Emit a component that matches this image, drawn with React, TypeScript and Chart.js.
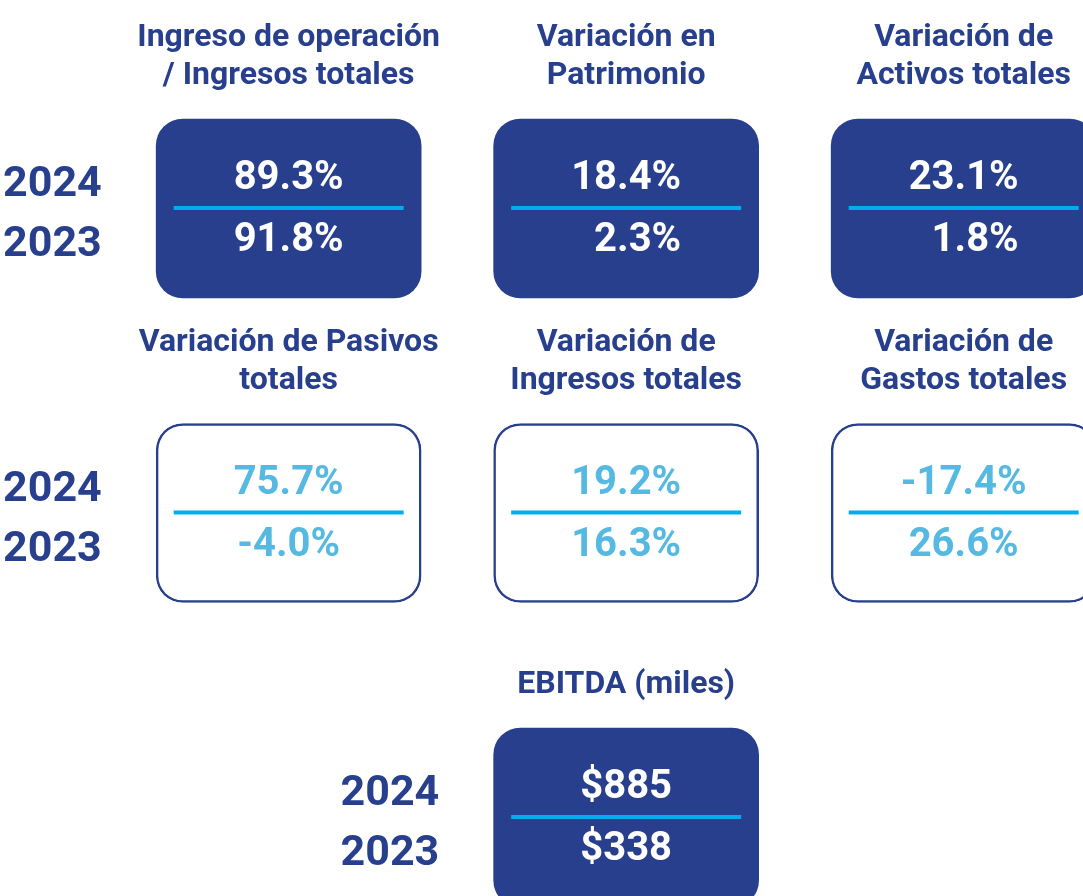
import React, { useEffect, useRef } from "react";
import { Chart, registerables } from "chart.js";

Chart.register(...registerables);

// ---------- data ----------
const metricTitles: string[][] = [
  ["Ingreso de operación", "/ Ingresos totales"],
  ["Variación en", "Patrimonio"],
  ["Variación de", "Activos totales"],
  ["Variación de Pasivos", "totales"],
  ["Variación de", "Ingresos totales"],
  ["Variación de", "Gastos totales"],
  ["EBITDA (miles)"],
];
const values2024 = [89.3, 18.4, 23.1, 75.7, 19.2, -17.4, 885];
const values2023 = [91.8, 2.3, 1.8, -4.0, 16.3, 26.6, 338];
const metricUnits = ["%", "%", "%", "%", "%", "%", "$"];
const yearLabels = ["2024", "2023"];
const cardColumn = [0, 1, 2, 0, 1, 2, 1];
const cardRow = [0, 0, 0, 1, 1, 1, 2];
const cardStyle = ["filled", "filled", "filled", "outline", "outline", "outline", "filled"];

// ---------- style / layout ----------
const NAVY = "#273F8C";
const CYAN = "#00AEEF";
const LIGHT = "#56B9E2";
const FONT = "Roboto, 'Noto Sans', sans-serif";
const CARD_HALF = 0.294; // half card height, in row units
const X_MIN = -0.8553;
const X_MAX = 2.3536;
const Y_MIN = -0.6847;
const Y_MAX = 2.2578;
const YEAR_COL_OFFSET = 0.7;
const rowValueAlign = ["right", "center", "center"];

function formatValue(v: number, unit: string): string {
  if (unit === "$") return "$" + v.toString();
  return v.toFixed(1) + "%";
}

const cardTextPlugin = {
  id: "cardText",
  afterDatasetsDraw(chart: any) {
    const ctx: CanvasRenderingContext2D = chart.ctx;
    const xs = chart.scales.x;
    const ys = chart.scales.y;
    ctx.save();

    for (let i = 0; i < metricTitles.length; i++) {
      const cx = xs.getPixelForValue(cardColumn[i]);
      const top = ys.getPixelForValue(cardRow[i] - CARD_HALF);
      const filled = cardStyle[i] === "filled";

      // title lines (bottom-aligned above the card)
      ctx.fillStyle = NAVY;
      ctx.font = `bold 32px ${FONT}`;
      ctx.textAlign = "center";
      ctx.textBaseline = "alphabetic";
      const lines = metricTitles[i];
      for (let l = 0; l < lines.length; l++) {
        const fromBottom = lines.length - 1 - l;
        const centerY = top - 46 - fromBottom * 38;
        ctx.fillText(lines[l], cx, centerY + 11.4);
      }

      // separator line
      ctx.fillStyle = CYAN;
      ctx.fillRect(cx - 115, top + 87, 230, 4);

      // values
      ctx.fillStyle = filled ? "#FFFFFF" : LIGHT;
      ctx.font = `bold 40px ${FONT}`;
      const align = rowValueAlign[cardRow[i]];
      const vx = align === "right" ? cx + 55 : cx;
      ctx.textAlign = align === "right" ? "right" : "center";
      ctx.fillText(formatValue(values2024[i], metricUnits[i]), vx, top + 56 + 14.2);
      ctx.fillText(formatValue(values2023[i], metricUnits[i]), vx, top + 118 + 14.2);
    }

    // year labels per row
    const rows = Array.from(new Set(cardRow));
    ctx.fillStyle = NAVY;
    ctx.font = `bold 43px ${FONT}`;
    ctx.textAlign = "center";
    for (const r of rows) {
      const firstCol = Math.min(...cardColumn.filter((_, i) => cardRow[i] === r));
      const x = xs.getPixelForValue(firstCol - YEAR_COL_OFFSET);
      const top = ys.getPixelForValue(r - CARD_HALF);
      ctx.fillText(yearLabels[0], x, top + 62 + 15.3);
      ctx.fillText(yearLabels[1], x, top + 122 + 15.3);
    }
    ctx.restore();
  },
};

export default function App() {
  const canvasRef = useRef<HTMLCanvasElement | null>(null);

  useEffect(() => {
    if (!canvasRef.current) return;
    const chart = new Chart(canvasRef.current, {
      type: "bar",
      data: {
        datasets: [
          {
            data: metricTitles.map((_, i) => ({
              x: cardColumn[i],
              y: [cardRow[i] - CARD_HALF, cardRow[i] + CARD_HALF],
            })) as any,
            backgroundColor: cardStyle.map((s) => (s === "filled" ? NAVY : "#FFFFFF")),
            borderColor: NAVY,
            borderWidth: cardStyle.map((s) => (s === "filled" ? 0 : 2.5)),
            borderRadius: 27,
            borderSkipped: false,
            barThickness: 265,
            grouped: false,
          } as any,
        ],
      },
      options: {
        animation: false,
        responsive: false,
        events: [],
        layout: { padding: 0 },
        plugins: { legend: { display: false }, tooltip: { enabled: false }, title: { display: false } },
        scales: {
          x: { type: "linear", min: X_MIN, max: X_MAX, offset: false, display: false },
          y: { type: "linear", min: Y_MIN, max: Y_MAX, reverse: true, offset: false, display: false },
        },
      },
      plugins: [cardTextPlugin],
    });
    if ((document as any).fonts && (document as any).fonts.load) {
      Promise.all([
        (document as any).fonts.load(`bold 40px Roboto`),
        (document as any).fonts.load(`bold 32px Roboto`),
      ]).then(() => chart.draw()).catch(() => {});
    }
    return () => chart.destroy();
  }, []);

  return (
    <div style={{ position: "fixed", left: 0, top: 0, width: 1083, height: 896, background: "#FFFFFF" }}>
      <canvas ref={canvasRef} width={1083} height={896} style={{ display: "block", width: 1083, height: 896 }} />
    </div>
  );
}
